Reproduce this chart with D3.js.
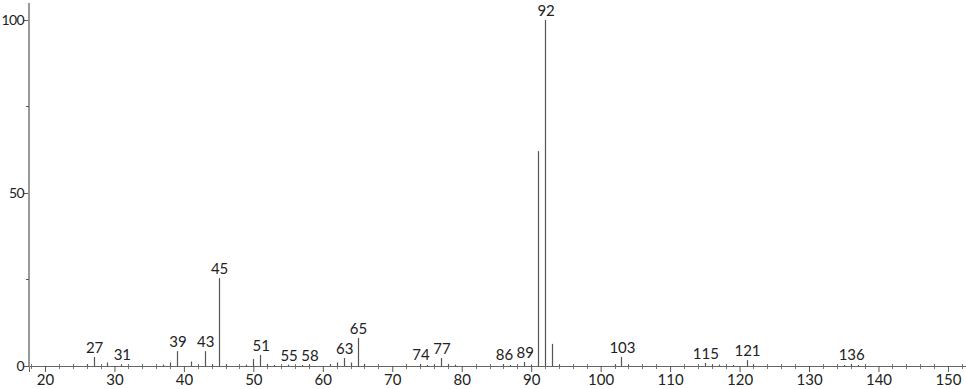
<!DOCTYPE html>
<html>
<head>
<meta charset="utf-8">
<script src="https://cdn.jsdelivr.net/npm/d3@7"></script>
<style>
  html, body { margin: 0; padding: 0; background: #fff; }
  svg { display: block; }
  .lbl { font-family: Lato, "Open Sans", sans-serif; font-size: 15px; fill: #222; }
  .axis text { font-family: Lato, "Open Sans", sans-serif; font-size: 15px; fill: #222; }
</style>
</head>
<body>
<div id="chart"></div>
<script>
// labelled peaks (m/z, relative intensity)
let labelMz = [27, 31, 39, 43, 45, 51, 55, 58, 63, 65, 74, 77, 86, 89, 92, 103, 115, 121, 136];
let labelInt = [2.6, 0.5, 4.3, 4.3, 25.4, 3.2, 0.4, 0.4, 2.3, 8.1, 0.6, 2.3, 0.5, 1.2, 100, 2.6, 0.9, 1.7, 0.6];
// unlabelled peaks
let otherMz = [26, 29, 37, 38, 41, 44, 46, 49, 50, 52, 53, 57, 61, 62, 64, 66, 75, 76, 78, 79, 87, 90, 91, 93, 94, 102, 104, 116, 117, 119, 122, 135, 137];
let otherInt = [0.5, 1.0, 0.4, 1.0, 1.3, 0.5, 0.5, 0.4, 2.0, 0.6, 0.3, 0.3, 0.6, 1.0, 1.0, 0.6, 0.3, 0.3, 0.6, 0.4, 0.3, 0.4, 62.1, 6.4, 0.3, 0.4, 0.3, 0.5, 0.4, 0.3, 0.4, 0.3, 0.3];
let xTicks = [20, 30, 40, 50, 60, 70, 80, 90, 100, 110, 120, 130, 140, 150];
let yTicks = [0, 50, 100];

let W = 966, H = 389;
let svg = d3.select("#chart").append("svg").attr("width", W).attr("height", H);

let x = d3.scaleLinear().domain([17.7, 152.6]).range([29, 966]);
let y = d3.scaleLinear().domain([0, 100]).range([366, 20]);

let peaks = labelMz.map((m, i) => ({ mz: m, v: labelInt[i], label: true }))
  .concat(otherMz.map((m, i) => ({ mz: m, v: otherInt[i], label: false })));

// minor x ticks every 2
let minor = d3.range(18, 153, 2).filter(d => d % 10 != 0);
svg.append("g").selectAll("line").data(minor).enter().append("line")
  .attr("x1", d => Math.round(x(d)) + 0.5).attr("x2", d => Math.round(x(d)) + 0.5)
  .attr("y1", 364).attr("y2", 369)
  .attr("stroke", "#777").attr("stroke-width", 1);

// x axis
let xAxis = d3.axisBottom(x).tickValues(xTicks).tickSize(6).tickPadding(2).tickFormat(d3.format("d"));
let gx = svg.append("g").attr("class", "axis").attr("transform", "translate(0,366)").call(xAxis);
gx.select(".domain").attr("stroke", "#666");
gx.selectAll(".tick line").attr("stroke", "#555");

// y axis
let yAxis = d3.axisLeft(y).tickValues(yTicks).tickSize(5).tickPadding(0);
let gy = svg.append("g").attr("class", "axis").attr("transform", "translate(29,0)").call(yAxis);
gy.select(".domain").remove();
gy.selectAll(".tick line").attr("stroke", "#555");
gy.selectAll(".tick text").style("font-size", "14px").attr("letter-spacing", -0.6);
gy.append("line").attr("x1", 0).attr("x2", 0).attr("y1", 3).attr("y2", 366)
  .attr("stroke", "#999").attr("stroke-width", 2);
gy.selectAll(".minor").data([25, 75]).enter().append("line")
  .attr("x1", -3).attr("x2", 0).attr("y1", d => y(d)).attr("y2", d => y(d))
  .attr("stroke", "#555");

// peaks
svg.append("g").selectAll("line").data(peaks).enter().append("line")
  .attr("x1", d => Math.round(x(d.mz)) + 0.5).attr("x2", d => Math.round(x(d.mz)) + 0.5)
  .attr("y1", y(0)).attr("y2", d => y(d.v))
  .attr("stroke", "#555").attr("stroke-width", 1.2);

// peak labels
svg.append("g").selectAll("text").data(peaks.filter(d => d.label)).enter().append("text")
  .attr("class", "lbl")
  .attr("x", d => x(d.mz) + 1)
  .attr("y", d => y(d.v) - 4)
  .attr("text-anchor", "middle")
  .text(d => d.mz);
</script>
</body>
</html>
